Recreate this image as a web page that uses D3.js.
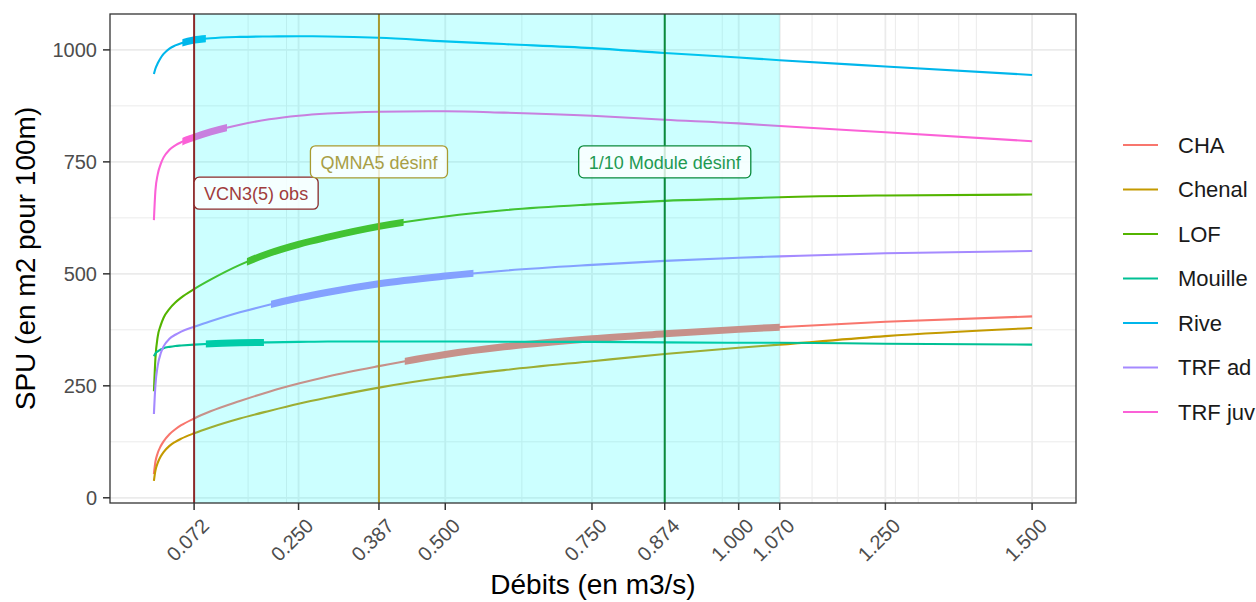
<!DOCTYPE html>
<html>
<head>
<meta charset="utf-8">
<script src="https://cdn.jsdelivr.net/npm/d3@7"></script>
<style>
  html, body { margin: 0; padding: 0; background: #fff; }
  svg { display: block; font-family: "Liberation Sans", Arial, sans-serif; }
</style>
</head>
<body>
<svg id="chart" width="1256" height="602"></svg>
<script>
// ---------------- data ----------------
const debits = [0.0035, 0.006, 0.01, 0.015, 0.02, 0.03, 0.04, 0.05, 0.072, 0.1, 0.15, 0.2, 0.25, 0.3, 0.387, 0.5, 0.6, 0.75, 0.874, 1.0, 1.07, 1.25, 1.5];
const seriesNames = ["CHA", "Chenal", "LOF", "Mouille", "Rive", "TRF ad", "TRF juv"];
const spuCHA     = [53, 80, 100, 115, 126, 142, 153, 162, 177, 193, 216, 237, 255, 271, 294, 320, 337, 355, 366, 376, 381, 393, 405];
const spuChenal  = [38, 60, 78, 92, 102, 116, 125, 132, 144, 157, 177, 194, 210, 224, 246, 269, 285, 305, 321, 335, 342, 361, 379];
const spuLOF     = [238, 310, 360, 385, 402, 422, 436, 447, 466, 487, 520, 546, 566, 582, 606, 628, 642, 655, 663, 668, 671, 675, 677];
const spuMouille = [316, 322, 327, 331, 334, 337, 339, 340, 342, 344, 346, 347, 348, 349, 349, 349, 348.5, 348, 347, 346, 346, 344, 342];
const spuRive    = [946, 958, 970, 982, 991, 1003, 1010, 1015, 1022, 1026, 1029, 1030, 1030.5, 1030, 1027, 1019, 1013, 1004, 993, 983, 977, 963, 944];
const spuTRFad   = [187, 250, 295, 322, 338, 355, 364, 371, 382, 394, 414, 431, 446, 459, 478, 495, 507, 520, 529, 536, 539, 546, 551];
const spuTRFjuv  = [620, 685, 722, 745, 760, 777, 787, 794, 805, 817, 833, 845, 853, 858, 862, 863, 860, 853, 844, 836, 830, 816, 796];
const seriesValues = [spuCHA, spuChenal, spuLOF, spuMouille, spuRive, spuTRFad, spuTRFjuv];
// highlighted (optimal) ranges of debit per series (null = none)
const thickRanges = [[0.431, 1.07], null, [0.162, 0.429], [0.092, 0.191], [0.052, 0.092], [0.203, 0.548], [0.052, 0.128]];
const seriesColors = ["#F8766D", "#C49A00", "#53B400", "#00C094", "#00B6EB", "#A58AFF", "#FB61D7"];

const xTicks = [0.072, 0.25, 0.387, 0.5, 0.75, 0.874, 1.0, 1.07, 1.25, 1.5];
const xMinor = [0.164, 0.2295, 0.6305, 0.972, 1.125, 1.168, 1.267, 1.306, 1.375, 1.405];
const yTicks = [0, 250, 500, 750, 1000];
const yMinor = [125, 375, 625, 875];

const refNames  = ["VCN3(5) obs", "QMNA5 désinf", "1/10 Module désinf"];
const refDebits = [0.072, 0.387, 0.874];
const refLabelY = [680, 750, 750];
const refHjust  = [0, 0.5, 0.5];
const refLineColors = ["#8B2A2A", "#A89A30", "#0A8A3C"];
const refTextColors = ["#A03C3C", "#A89E45", "#1E9A52"];
const shadeRange = [0.072, 1.07];

// ---------------- layout ----------------
const svg = d3.select("#chart");
const P = { left: 110, right: 1076, top: 14, bottom: 503 };

const xMin = d3.min(debits), xMax = d3.max(debits);
const allY = seriesValues.flat();
const yMin = d3.min(allY), yMax = d3.max(allY);
const xPad = (xMax - xMin) * 0.05, yPad = (yMax - yMin) * 0.05;

const x = d3.scaleLinear().domain([xMin - xPad, xMax + xPad]).range([P.left, P.right]);
const y = d3.scaleLinear().domain([yMin - yPad, yMax + yPad]).range([P.bottom, P.top]);

svg.append("rect").attr("x", P.left).attr("y", P.top)
  .attr("width", P.right - P.left).attr("height", P.bottom - P.top).attr("fill", "#fff");

const grid = svg.append("g");
grid.selectAll(".ymin").data(yMinor).join("line")
  .attr("x1", P.left).attr("x2", P.right).attr("y1", d => y(d)).attr("y2", d => y(d))
  .attr("stroke", "#EBEBEB").attr("stroke-width", 1);
grid.selectAll(".xmin").data(xMinor).join("line")
  .attr("y1", P.top).attr("y2", P.bottom).attr("x1", d => x(d)).attr("x2", d => x(d))
  .attr("stroke", "#EBEBEB").attr("stroke-width", 1);
grid.selectAll(".ymaj").data(yTicks).join("line")
  .attr("x1", P.left).attr("x2", P.right).attr("y1", d => y(d)).attr("y2", d => y(d))
  .attr("stroke", "#EBEBEB").attr("stroke-width", 1.8);
grid.selectAll(".xmaj").data(xTicks).join("line")
  .attr("y1", P.top).attr("y2", P.bottom).attr("x1", d => x(d)).attr("x2", d => x(d))
  .attr("stroke", "#EBEBEB").attr("stroke-width", 1.8);

const defs = svg.append("defs");
defs.append("clipPath").attr("id", "panelClip").append("rect")
  .attr("x", P.left).attr("y", P.top).attr("width", P.right - P.left).attr("height", P.bottom - P.top);

const line = d3.line().x(d => x(d[0])).y(d => y(d[1])).curve(d3.curveMonotoneX);

const curves = svg.append("g").attr("clip-path", "url(#panelClip)");
seriesNames.forEach((name, i) => {
  const pts = debits.map((q, j) => [q, seriesValues[i][j]]);
  curves.append("path").attr("d", line(pts)).attr("fill", "none")
    .attr("stroke", seriesColors[i]).attr("stroke-width", 2.1);
  const r = thickRanges[i];
  if (r) {
    const id = "thick" + i;
    defs.append("clipPath").attr("id", id).append("rect")
      .attr("x", x(r[0])).attr("y", P.top).attr("width", x(r[1]) - x(r[0])).attr("height", P.bottom - P.top);
    curves.append("path").attr("d", line(pts)).attr("fill", "none")
      .attr("clip-path", `url(#${id})`)
      .attr("stroke", seriesColors[i]).attr("stroke-width", 7);
  }
});

// shaded region (drawn above curves)
svg.append("rect")
  .attr("x", x(shadeRange[0])).attr("y", P.top)
  .attr("width", x(shadeRange[1]) - x(shadeRange[0])).attr("height", P.bottom - P.top)
  .attr("fill", "#00FFFF").attr("opacity", 0.2);

refDebits.forEach((q, i) => {
  svg.append("line").attr("x1", x(q)).attr("x2", x(q)).attr("y1", P.top).attr("y2", P.bottom)
    .attr("stroke", refLineColors[i]).attr("stroke-width", 2);
});

refDebits.forEach((q, i) => {
  const g = svg.append("g");
  const t = g.append("text").text(refNames[i])
    .attr("font-size", 18).attr("fill", refTextColors[i])
    .attr("dominant-baseline", "central");
  const w = t.node().getComputedTextLength();
  const padX = 10, h = 32;
  const bw = w + 2 * padX;
  const bx = x(q) - refHjust[i] * bw;
  const cy = y(refLabelY[i]);
  g.insert("rect", "text").attr("x", bx).attr("y", cy - h / 2).attr("width", bw).attr("height", h)
    .attr("rx", 5).attr("ry", 5).attr("fill", "#fff").attr("fill-opacity", 0.8)
    .attr("stroke", refLineColors[i]).attr("stroke-width", 1.3);
  t.attr("x", bx + padX).attr("y", cy + 1);
});

svg.append("rect").attr("x", P.left).attr("y", P.top)
  .attr("width", P.right - P.left).attr("height", P.bottom - P.top)
  .attr("fill", "none").attr("stroke", "#333").attr("stroke-width", 1.3);

const yAxis = svg.append("g");
yAxis.selectAll("line").data(yTicks).join("line")
  .attr("x1", P.left - 7).attr("x2", P.left).attr("y1", d => y(d)).attr("y2", d => y(d))
  .attr("stroke", "#333").attr("stroke-width", 1.5);
yAxis.selectAll("text").data(yTicks).join("text")
  .attr("x", P.left - 13).attr("y", d => y(d)).attr("text-anchor", "end")
  .attr("dominant-baseline", "central").attr("font-size", 20).attr("fill", "#4D4D4D")
  .text(d => d3.format("d")(d));

const xAxis = svg.append("g");
xAxis.selectAll("line").data(xTicks).join("line")
  .attr("y1", P.bottom).attr("y2", P.bottom + 7).attr("x1", d => x(d)).attr("x2", d => x(d))
  .attr("stroke", "#333").attr("stroke-width", 1.5);
xAxis.selectAll("text").data(xTicks).join("text")
  .attr("transform", d => `translate(${x(d) + 6},${P.bottom + 14}) rotate(-45)`)
  .attr("text-anchor", "end").attr("dominant-baseline", "hanging")
  .attr("font-size", 20).attr("fill", "#4D4D4D")
  .text(d => d3.format(".3f")(d));

svg.append("text").attr("x", (P.left + P.right) / 2).attr("y", 594)
  .attr("text-anchor", "middle").attr("font-size", 28).attr("fill", "#000")
  .text("Débits (en m3/s)");
svg.append("text").attr("transform", `translate(35,${(P.top + P.bottom) / 2}) rotate(-90)`)
  .attr("text-anchor", "middle").attr("font-size", 28).attr("fill", "#000")
  .text("SPU (en m2 pour 100m)");

const legend = svg.append("g");
seriesNames.forEach((name, i) => {
  const cy = 145 + i * 44.5;
  legend.append("line").attr("x1", 1123).attr("x2", 1158).attr("y1", cy).attr("y2", cy)
    .attr("stroke", seriesColors[i]).attr("stroke-width", 2.2);
  legend.append("text").attr("x", 1178).attr("y", cy).attr("dominant-baseline", "central")
    .attr("font-size", 22).attr("fill", "#1a1a1a").text(name);
});
</script>
</body>
</html>
